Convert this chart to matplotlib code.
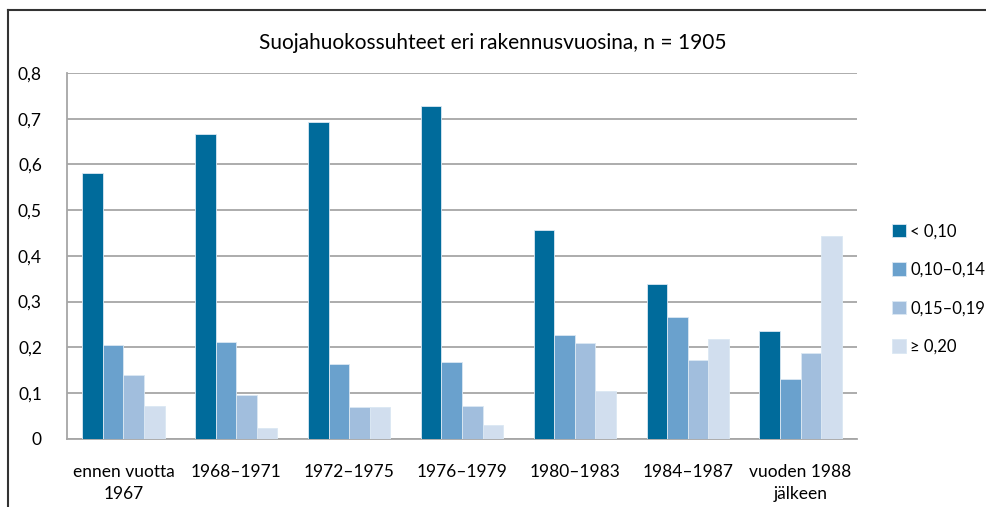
import numpy as np
import matplotlib
matplotlib.use("Agg")
import matplotlib.pyplot as plt
from matplotlib.lines import Line2D

plt.rcParams["font.family"] = ["Lato", "DejaVu Sans"]

# data
categories = ["ennen vuotta\n1967", "1968–1971", "1972–1975", "1976–1979",
              "1980–1983", "1984–1987", "vuoden 1988\njälkeen"]
series_names = ["< 0,10", "0,10–0,14", "0,15–0,19", "≥ 0,20"]
lt_010 = [0.582, 0.667, 0.693, 0.727, 0.457, 0.339, 0.235]
r010_014 = [0.205, 0.211, 0.163, 0.168, 0.227, 0.267, 0.130]
r015_019 = [0.139, 0.096, 0.070, 0.072, 0.209, 0.172, 0.188]
ge_020 = [0.072, 0.024, 0.070, 0.031, 0.104, 0.219, 0.444]
yticks = [0, 0.1, 0.2, 0.3, 0.4, 0.5, 0.6, 0.7, 0.8]
ytick_labels = ["0", "0,1", "0,2", "0,3", "0,4", "0,5", "0,6", "0,7", "0,8"]

colors = ["#006b9b", "#6aa1cd", "#a1bedd", "#d1deee"]

fig = plt.figure(figsize=(9.86, 5.07), dpi=100)
ax = fig.add_axes([67 / 986, (507 - 438.7) / 507, 790 / 986, (438.7 - 73) / 507])

x = np.arange(len(categories))
w = 0.1825
for i, (vals, name) in enumerate(zip([lt_010, r010_014, r015_019, ge_020], series_names)):
    ax.bar(x + (i - 1.5) * w, vals, width=w, color=colors[i], label=name,
           edgecolor="#dbe8f3", linewidth=0.6, zorder=3)

ax.set_xlim(-0.5, len(categories) - 0.5)
ax.set_ylim(0, 0.8)
ax.set_yticks(yticks)
ax.set_yticklabels(ytick_labels, fontsize=12.5)
ax.set_xticks(x)
ax.set_xticklabels(categories, fontsize=12.5, linespacing=1.5)
ax.tick_params(axis="y", length=0, pad=18)
ax.tick_params(axis="x", length=0, pad=18)
ax.grid(axis="y", color="#a6a6a6", linewidth=1.3, zorder=0)
for s in ["top", "right"]:
    ax.spines[s].set_visible(False)
for s in ["left", "bottom"]:
    ax.spines[s].set_color("#a6a6a6")
    ax.spines[s].set_linewidth(1.3)

fig.text(493 / 986, 1 - 43 / 507, "Suojahuokossuhteet eri rakennusvuosina, n = 1905",
         ha="center", va="center", fontsize=15)

ax.legend(loc="center left", bbox_to_anchor=(892 / 986, 1 - 289 / 507),
          bbox_transform=fig.transFigure, frameon=False, fontsize=12,
          borderpad=0, borderaxespad=0,
          handlelength=0.85, handleheight=0.85, handletextpad=0.25, labelspacing=1.35)

# outer frame lines (top and left)
fig.add_artist(Line2D([8 / 986, 1], [1 - 10 / 507, 1 - 10 / 507], color="#333333", linewidth=1.5,
                      transform=fig.transFigure))
fig.add_artist(Line2D([8 / 986, 8 / 986], [0, 1 - 10 / 507], color="#333333", linewidth=1.5,
                      transform=fig.transFigure))

fig.savefig("out.png", dpi=100)
